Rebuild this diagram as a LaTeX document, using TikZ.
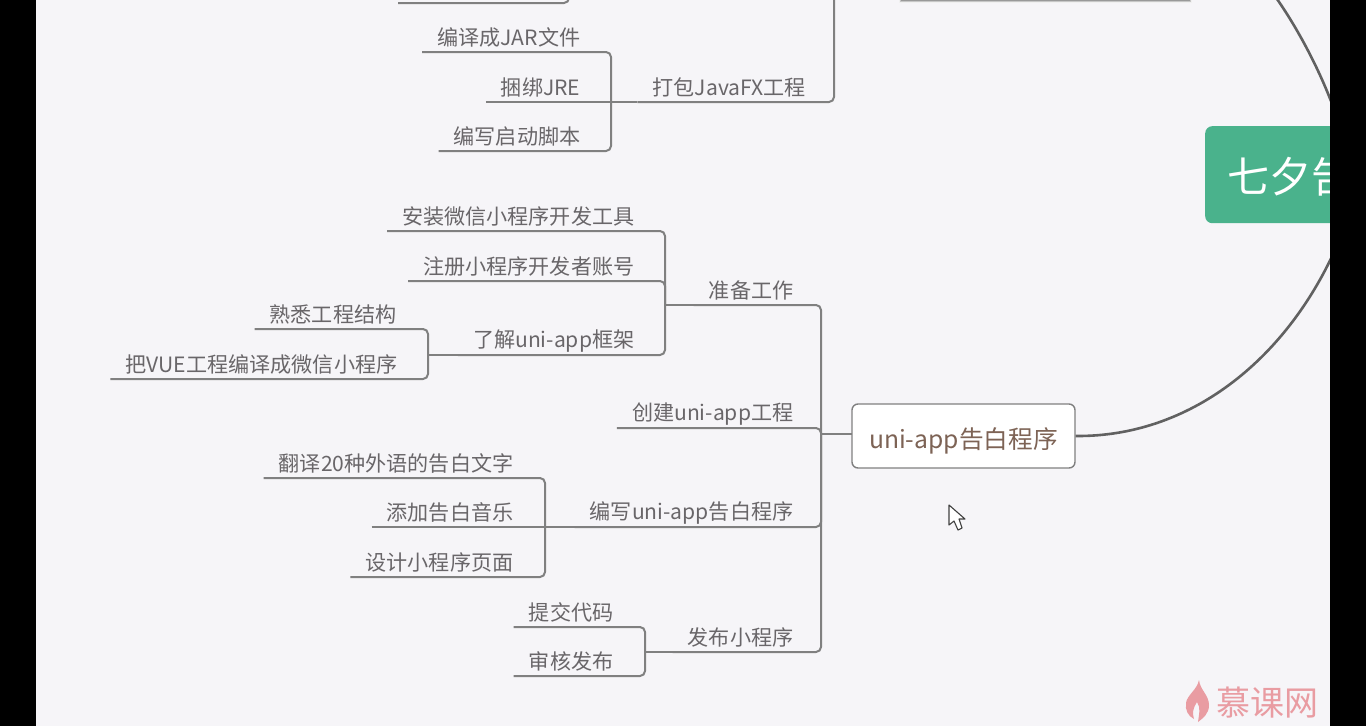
\documentclass[tikz,border=0pt]{standalone}
\usepackage{fontspec}
\setmainfont{Noto Sans CJK SC}
\definecolor{bgc}{HTML}{F6F5F8}
\definecolor{linec}{HTML}{808080}
\definecolor{textc}{HTML}{696669}
\definecolor{rootc}{HTML}{4AB28C}
\definecolor{mainc}{HTML}{7D6355}
\definecolor{logoc}{HTML}{E99CA2}
\tikzset{
  leaf/.style={anchor=south east,inner xsep=15pt,inner ysep=0pt,minimum height=28.5pt,text=textc,font=\fontsize{21.1}{21}\selectfont},
  conn/.style={draw=linec,line width=2pt,rounded corners=5pt},
  curvec/.style={draw=black!62,line width=2.6pt},
  mainbox/.style={draw=linec,line width=1.4pt,fill=white,rounded corners=6pt,text=mainc,font=\fontsize{24.7}{25}\selectfont,inner sep=0pt,minimum width=223pt,minimum height=64pt},
  rootbox/.style={fill=rootc,rounded corners=7pt,text=white,font=\fontsize{42}{42}\selectfont,inner sep=0pt,minimum width=220pt,minimum height=97pt,anchor=north west},
}
\begin{document}
\begin{tikzpicture}[x=1pt,y=-1pt]
\useasboundingbox (0,0) rectangle (1366,726);
\fill[bgc] (0,0) rectangle (1366,726);
% top box remnant
\fill[black!6] (899,0) rectangle (1192,3);
\fill[black!22] (900,0) rectangle (1191,2);
\fill[black!40] (901,0) rectangle (1190,1);
% main nodes
\node[rootbox] (root) at (1205,126) {};
\node[anchor=west,text=white,font=\fontsize{42}{42}\selectfont,inner sep=0pt] (roott) at (1227,177) {七夕告};
\node[mainbox] (app) at (963.5,436) {\raisebox{-12.5pt}[10pt][10pt]{uni-app告白程序}};
\coordinate (rootA) at (1335,250);
\coordinate (rootB) at (1335,112);
\coordinate (rootC) at (1277,-1);
\draw[curvec] (app.east) .. controls (1190,437) and (1285,360) .. (rootA);
\draw[curvec] (rootC) .. controls (1300,32) and (1322,75) .. (rootB);
% top group
\coordinate (topV) at (569,-8);
\coordinate (topL) at (398,3);
\draw[conn] (topL) -| (topV);
\node[leaf] (pack) at (821,102) {打包JavaFX工程};
\node[leaf] (jar) at (595.5,52) {编译成JAR文件};
\node[leaf] (jre) at (595.5,102) {捆绑JRE};
\node[leaf] (sh) at (595.5,151) {编写启动脚本};
\coordinate (packV) at (834,-8);
\coordinate (packJ) at (611,102);
\draw[conn] (pack.south west) -| (packV);
\draw[conn] (jar.south west) -| (packJ);
\draw[conn] (sh.south west) -| (packJ);
\draw[conn] (jre.south west) -- (pack.south west);
% uni-app group
\coordinate (trunk) at (821,434);
\coordinate (appIn) at (852,434);
\draw[conn,rounded corners=0pt] (trunk) -- (appIn);
\node[leaf] (prep) at (808.5,305) {准备工作};
\node[leaf] (create) at (808.5,428) {创建uni-app工程};
\node[leaf] (write) at (808.5,527) {编写uni-app告白程序};
\node[leaf] (pub) at (808.5,652) {发布小程序};
\draw[conn] (prep.south west) -| (trunk);
\draw[conn] (create.south west) -| (trunk);
\draw[conn] (write.south west) -| (trunk);
\draw[conn] (pub.south west) -| (trunk);
% prep children
\coordinate (prepJ) at (665,305);
\node[leaf] (wx) at (649.5,231) {安装微信小程序开发工具};
\node[leaf] (reg) at (649.5,281) {注册小程序开发者账号};
\node[leaf] (know) at (649.5,355) {了解uni-app框架};
\draw[conn] (wx.south west) -| (prepJ);
\draw[conn] (reg.south west) -| (prepJ);
\draw[conn] (know.south west) -| (prepJ);
\draw[conn] (prepJ) -- (prep.south west);
\coordinate (knowJ) at (428,355);
\node[leaf] (fam) at (411.5,329) {熟悉工程结构};
\node[leaf] (vue) at (412.5,379) {把VUE工程编译成微信小程序};
\draw[conn] (fam.south west) -| (knowJ);
\draw[conn] (vue.south west) -| (knowJ);
\draw[conn] (knowJ) -- (know.south west);
% write children
\coordinate (writeJ) at (545,527);
\node[leaf] (tr) at (528.5,478) {翻译20种外语的告白文字};
\node[leaf] (mus) at (528.5,527) {添加告白音乐};
\node[leaf] (des) at (528.5,577) {设计小程序页面};
\draw[conn] (tr.south west) -| (writeJ);
\draw[conn] (des.south west) -| (writeJ);
\draw[conn] (mus.south west) -- (write.south west);
% publish children
\coordinate (pubJ) at (645,652);
\node[leaf] (sub) at (628.5,627) {提交代码};
\node[leaf] (rev) at (628.5,676) {审核发布};
\draw[conn] (sub.south west) -| (pubJ);
\draw[conn] (rev.south west) -| (pubJ);
\draw[conn] (pubJ) -- (pub.south west);
% cursor
\draw[fill=white,draw=black!75,line width=1.1pt,line join=round]
  (949,505) -- (949,525) -- (954,521) -- (958,530) -- (962,528) -- (959,519) -- (965,519) -- cycle;
% logo
\fill[logoc] (1199,680) .. controls (1200,690) and (1209,695) .. (1209,705)
  .. controls (1209,714) and (1203,718) .. (1198,722)
  .. controls (1199,714) and (1201,708) .. (1197,702)
  .. controls (1193,708) and (1192,713) .. (1194,719)
  .. controls (1188,716) and (1185,710) .. (1186,703)
  .. controls (1187,695) and (1197,690) .. (1199,680) -- cycle;
\node[anchor=west,text=logoc,inner sep=0pt,font=\fontsize{34}{34}\selectfont] (logo) at (1216,703) {慕课网};
% screen bars
\fill[black] (0,0) rectangle (36,726);
\fill[black] (1330,0) rectangle (1366,726);
\end{tikzpicture}
\end{document}
